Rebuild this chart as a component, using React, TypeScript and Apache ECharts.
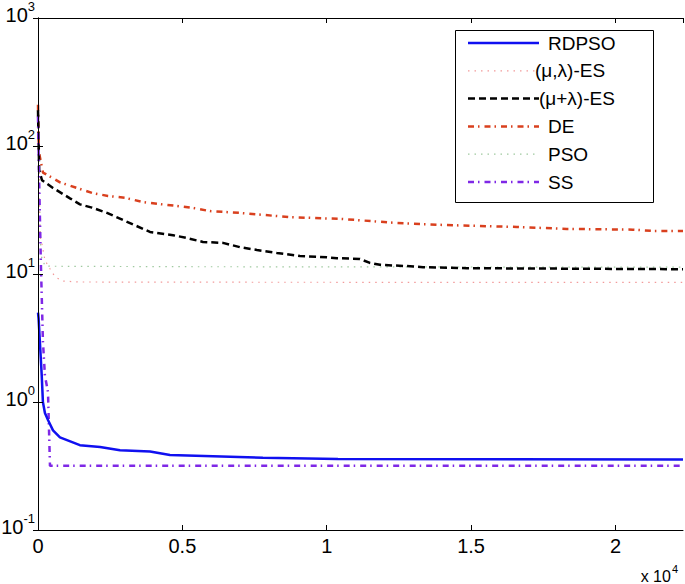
import React, { useEffect, useRef } from "react";
import * as echarts from "echarts";

// ---- data (iterations, best fitness) ----
const xMax = 22340;

const rdpsoIter = [0, 20, 60, 130, 170, 240, 350, 520, 760, 1450, 2150, 2840, 3880, 4570, 7790, 10390, 22340];
const rdpsoFit = [5, 4.5, 3.1, 1.6, 1.0, 0.82, 0.72, 0.6, 0.53, 0.46, 0.445, 0.42, 0.41, 0.385, 0.367, 0.358, 0.356];

const commaEsIter = [0, 35, 70, 140, 240, 415, 590, 865, 1450, 8000, 22340];
const commaEsFit = [200, 60, 20, 17, 12.8, 11, 9.5, 8.8, 8.66, 8.62, 8.6];

const plusEsIter = [0, 40, 139, 519, 1108, 1454, 1870, 2389, 3186, 3878, 4675, 5160, 5714, 6407, 6995, 7584, 8276, 9073, 10008, 10355, 11151, 11497, 11844, 12883, 13333, 14857, 22340];
const plusEsFit = [190, 65, 54, 47, 39, 35, 33, 30, 25, 21.3, 20.1, 19.1, 17.8, 17.5, 16.2, 15.4, 14.6, 13.8, 13.5, 13.3, 13.1, 12.2, 11.8, 11.5, 11.3, 11.1, 10.9];

const deIter = [0, 30, 173, 762, 1350, 1870, 2424, 3013, 3601, 4156, 4814, 5368, 5956, 6995, 8727, 10562, 12432, 14163, 16588, 18319, 20605, 21297, 22340];
const deFit = [210, 90, 62, 52, 47, 43, 40.7, 39.4, 36.6, 35.3, 34, 32.8, 31, 30, 27.8, 26.9, 25, 24.1, 23.3, 22.5, 22.2, 21.7, 21.7];

const psoIter = [0, 35, 100, 240, 415, 5000, 22340];
const psoFit = [200, 50, 14, 11.6, 11.5, 11.4, 11.3];

const ssIter = [0, 35, 100, 170, 240, 346, 415, 22340];
const ssFit = [170, 60, 12, 3, 1.6, 1.2, 0.317, 0.317];

const xTickLabels = ["0", "0.5", "1", "1.5", "2"];

const names = ["RDPSO", "(μ,λ)-ES", "(μ+λ)-ES", "DE", "PSO", "SS"];
const colors = ["#1010F0", "#F29A9A", "#000000", "#D9401E", "#9FC99F", "#7F28E6"];
const widths = [2.5, 1.2, 2.5, 2.5, 1.2, 2.5];
const dashes: any[] = ["solid", [1.5, 5], [7, 4], [6, 4, 1.5, 5], [1.5, 5], [6, 4, 1.5, 5]];

const FONT = "Liberation Sans, Arial, Helvetica, sans-serif";

function zip(xs: number[], ys: number[]) {
  return xs.map((x, i) => [x, ys[i]]);
}

export default function App() {
  const ref = useRef<HTMLDivElement>(null);
  useEffect(() => {
    document.body.style.margin = "0";
    const chart = echarts.init(ref.current!, null, { renderer: "svg" });
    const allData = [
      zip(rdpsoIter, rdpsoFit),
      zip(commaEsIter, commaEsFit),
      zip(plusEsIter, plusEsFit),
      zip(deIter, deFit),
      zip(psoIter, psoFit),
      zip(ssIter, ssFit),
    ];
    const order = [4, 1, 3, 2, 5, 0];
    const series = order.map((i) => ({
      type: "line",
      name: names[i],
      data: allData[i],
      showSymbol: false,
      symbol: "none",
      clip: true,
      z: 1,
      lineStyle: { color: colors[i], width: widths[i], type: dashes[i] },
    }));

    const legTop = 43;
    const legStep = 27.8;
    const legTextX = [548, 535, 539, 548, 548, 548];
    const legendEls: any[] = [
      {
        type: "rect",
        shape: { x: 455.5, y: 30.5, width: 198, height: 172 },
        style: { fill: "#fff", stroke: "#000", lineWidth: 1 },
        z: 10,
      },
    ];
    names.forEach((n, i) => {
      const y = legTop + i * legStep;
      legendEls.push({
        type: "line",
        shape: { x1: 468, y1: y, x2: 539, y2: y },
        style: { stroke: colors[i], lineWidth: widths[i], lineDash: dashes[i] === "solid" ? null : dashes[i] },
        z: 11,
      });
      legendEls.push({
        type: "text",
        x: legTextX[i],
        y: y,
        style: { text: n, fill: "#000", font: `19px ${FONT}`, textVerticalAlign: "middle", textAlign: "left" },
        z: 11,
      });
    });
    legendEls.push({
      type: "text",
      x: 678,
      y: 563,
      style: {
        text: "{a|x 10}{b|4}",
        textAlign: "right",
        align: "right",
        textVerticalAlign: "top",
        verticalAlign: "top",
        rich: {
          a: { fontSize: 16, fontFamily: FONT, fill: "#000", verticalAlign: "bottom" },
          b: { fontSize: 11, fontFamily: FONT, fill: "#000", lineHeight: 21.5, verticalAlign: "top", padding: [0, 0, 0, 1] },
        },
      },
      z: 11,
    });

    const axisCommon = {
      axisLine: { show: true, lineStyle: { color: "#000", width: 1 } },
      axisTick: { show: true, inside: true, length: 5, lineStyle: { color: "#000", width: 1 } },
      splitLine: { show: false },
      z: 5,
    };

    chart.setOption({
      animation: false,
      backgroundColor: "#fff",
      grid: { left: 38, top: 18, right: 2, bottom: 54, containLabel: false, outerBoundsMode: "none" },
      xAxis: [
        {
          type: "value",
          min: 0,
          max: xMax,
          interval: 5000,
          position: "bottom",
          ...axisCommon,
          axisLabel: {
            show: true,
            margin: 6,
            fontSize: 20,
            fontFamily: FONT,
            color: "#000",
            showMaxLabel: false,
            formatter: (v: number) => xTickLabels[Math.round(v / 5000)] ?? "",
          },
        },
        {
          type: "value",
          min: 0,
          max: xMax,
          interval: 5000,
          position: "top",
          ...axisCommon,
          axisLabel: { show: false },
        },
      ],
      yAxis: [
        {
          type: "log",
          logBase: 10,
          min: 0.1,
          max: 1000,
          position: "left",
          ...axisCommon,
          axisLabel: {
            show: true,
            margin: 3,
            color: "#000",
            formatter: (v: number) => `{b|10}{e|${Math.round(Math.log10(v))}}`,
            rich: {
              b: { fontSize: 20, fontFamily: FONT, color: "#000", padding: [0, 0, 12, 0], verticalAlign: "bottom" },
              e: { fontSize: 13, fontFamily: FONT, color: "#000", lineHeight: 37, verticalAlign: "top" },
            },
          },
        },
        {
          type: "log",
          logBase: 10,
          min: 0.1,
          max: 1000,
          position: "right",
          ...axisCommon,
          axisLabel: { show: false },
        },
      ],
      series,
      graphic: legendEls,
    });
    return () => chart.dispose();
  }, []);
  return <div ref={ref} style={{ width: 685, height: 584 }} />;
}
